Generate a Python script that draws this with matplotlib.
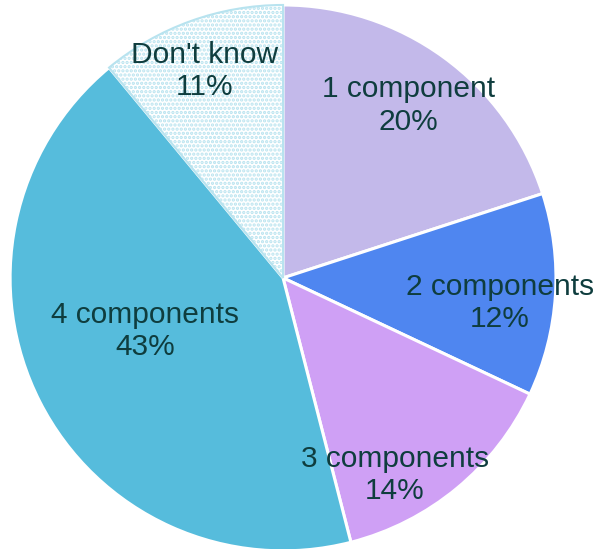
import matplotlib.pyplot as plt
import numpy as np

plt.rcParams["font.family"] = ["Liberation Sans", "DejaVu Sans"]
plt.rcParams["hatch.linewidth"] = 1.6
plt.rcParams["hatch.color"] = "#a9dcec"

# Data
categories = ["1 component", "2 components", "3 components", "4 components", "Don't know"]
shares = [20, 12, 14, 43, 11]
colors = ["#c3b9ea", "#4f86f0", "#cfa0f5", "#56bcdc", "white"]

# label placement (radius factor, angle shift in degrees from wedge middle)
label_radius = [0.78, 0.80, 0.83, 0.54, 0.81]
label_shift = [0, -3, -10, -6, 1]

fig = plt.figure(figsize=(5.95, 5.49), dpi=100)
ax = fig.add_axes([0, 0, 1, 1])

wedges, _ = ax.pie(
    shares,
    colors=colors,
    startangle=90,
    counterclock=False,
    radius=1.0,
    wedgeprops=dict(edgecolor="white", linewidth=2.2),
)

# dotted pattern for "Don't know"
dk = wedges[-1]
dk.set_edgecolor("#b8e3ef")
dk.set_linewidth(1.5)
dk.set_hatch("....")

for w, cat, val, rf, sh in zip(wedges, categories, shares, label_radius, label_shift):
    mid = np.deg2rad((w.theta1 + w.theta2) / 2 + sh)
    ax.text(rf * np.cos(mid), rf * np.sin(mid), f"{cat}\n{val}%",
            ha="center", va="center", fontsize=21.5, color="#0f3d3e",
            linespacing=1.2)

ax.set_xlim(-1.037, 1.143)
ax.set_ylim(-0.993, 1.018)
ax.set_aspect("equal")
ax.axis("off")

fig.savefig("out.png", dpi=100)
